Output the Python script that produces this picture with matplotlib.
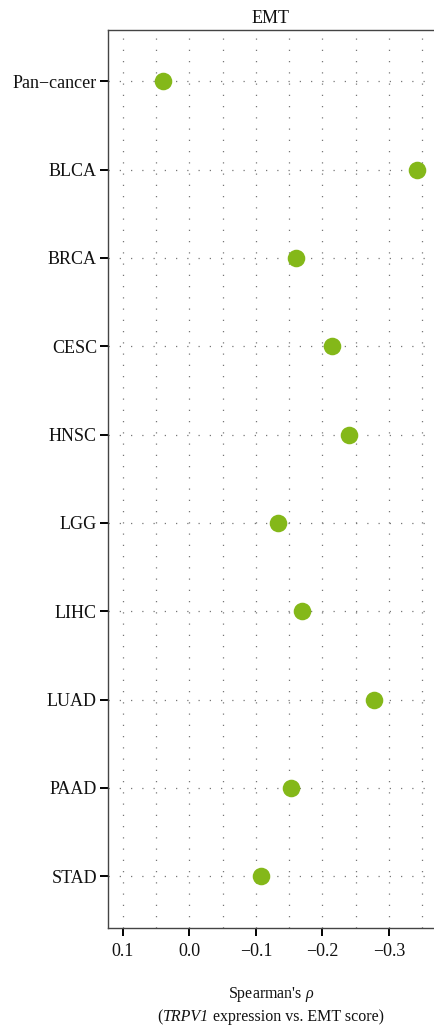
import numpy as np
import matplotlib
matplotlib.use("Agg")
import matplotlib.pyplot as plt
from matplotlib.ticker import MultipleLocator
from matplotlib.offsetbox import TextArea, HPacker, AnnotationBbox

plt.rcParams['font.family'] = ['Liberation Serif', 'DejaVu Serif']
plt.rcParams['mathtext.fontset'] = 'custom'
plt.rcParams['mathtext.rm'] = 'Liberation Serif'
plt.rcParams['mathtext.it'] = 'Liberation Serif:italic'

# data
cancers = ['Pan−cancer', 'BLCA', 'BRCA', 'CESC', 'HNSC', 'LGG', 'LIHC', 'LUAD', 'PAAD', 'STAD']
rho = [0.040, -0.342, -0.160, -0.214, -0.240, -0.133, -0.169, -0.277, -0.153, -0.108]
xticks = [0.1, 0.0, -0.1, -0.2, -0.3]
xticklabels = ['0.1', '0.0', '−0.1', '−0.2', '−0.3']

fig = plt.figure(figsize=(4.34, 10.28), dpi=100)
ax = fig.add_axes([108/434, 1 - 928/1028, 1 - 108/434, (928 - 30)/1028])

ypos = np.arange(len(cancers))
ax.scatter(rho, ypos, s=160, color='#84b819', zorder=3, linewidths=0)

ax.set_xlim(0.1226, -0.368)
ax.set_ylim(len(cancers) - 1 + 0.585, -0.58)

ax.set_xticks(xticks)
ax.set_xticklabels(xticklabels)
ax.xaxis.set_minor_locator(MultipleLocator(0.05))
ax.set_yticks(ypos)
ax.set_yticklabels(cancers)

ax.grid(True, which='both', axis='x', linestyle=(0, (1, 8)), color='#777777', linewidth=0.9)
ax.grid(True, which='major', axis='y', linestyle=(0, (1, 8)), color='#777777', linewidth=0.9)
ax.set_axisbelow(True)

ax.tick_params(axis='both', which='major', direction='out', length=6, width=1.4,
               color='black', labelsize=13, labelcolor='#111111')
ax.tick_params(axis='x', which='minor', length=0)
ax.tick_params(axis='x', pad=5)
ax.tick_params(axis='y', pad=2)

for side in ['left', 'top', 'bottom']:
    ax.spines[side].set_color('#444444')
    ax.spines[side].set_linewidth(1.0)
ax.spines['right'].set_visible(False)

ax.set_title('EMT', fontsize=13, pad=5, color='#111111')

# two-line x label, second line has italic gene name
xc = 271 / 434
fig.text(xc, 1 - 998/1028, "Spearman's $\\rho$", ha='center', va='baseline',
         fontsize=11.5, color='#111111')
tp = dict(fontsize=11.5, color='#111111')
parts = [TextArea("(", textprops=tp),
         TextArea("TRPV1", textprops=dict(tp, style='italic')),
         TextArea(" expression vs. EMT score)", textprops=tp)]
line2 = HPacker(children=parts, sep=0, pad=0, align='baseline')
ab = AnnotationBbox(line2, (xc, 1 - 1025/1028), xycoords='figure fraction',
                    box_alignment=(0.5, 0.0), frameon=False, pad=0)
fig.add_artist(ab)

fig.savefig('out.png', dpi=100)
